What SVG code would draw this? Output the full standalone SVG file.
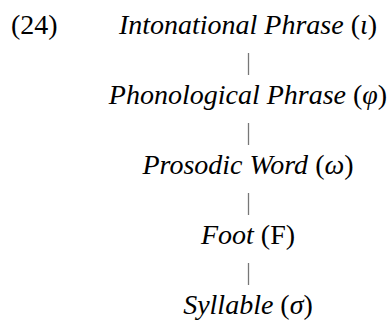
<svg xmlns="http://www.w3.org/2000/svg" width="392" height="327" viewBox="0 0 392 327">
<style>
text{font-family:"Liberation Serif","Times New Roman",serif;font-size:28px;fill:#000}
.l{text-anchor:middle}
.i{font-style:italic}
.c line{stroke:#777;stroke-width:1.3}
</style>
<rect width="392" height="327" fill="#fff"/>
<text x="11" y="34">(24)</text>
<g id="n1"><text class="l" x="248" y="34"><tspan class="i">Intonational Phrase</tspan> (<tspan class="i">ι</tspan>)</text></g>
<g id="n2"><text class="l" x="248" y="104"><tspan class="i">Phonological Phrase</tspan> (<tspan class="i">φ</tspan>)</text></g>
<g id="n3"><text class="l" x="248" y="174"><tspan class="i">Prosodic Word</tspan> (<tspan class="i">ω</tspan>)</text></g>
<g id="n4"><text class="l" x="248" y="244"><tspan class="i">Foot</tspan> (F)</text></g>
<g id="n5"><text class="l" x="248" y="314"><tspan class="i">Syllable</tspan> (<tspan class="i">σ</tspan>)</text></g>
<g class="c">
<line x1="248.5" y1="53" x2="248.5" y2="75"/>
<line x1="248.5" y1="123" x2="248.5" y2="145"/>
<line x1="248.5" y1="193" x2="248.5" y2="215"/>
<line x1="248.5" y1="263" x2="248.5" y2="285"/>
</g>
</svg>
